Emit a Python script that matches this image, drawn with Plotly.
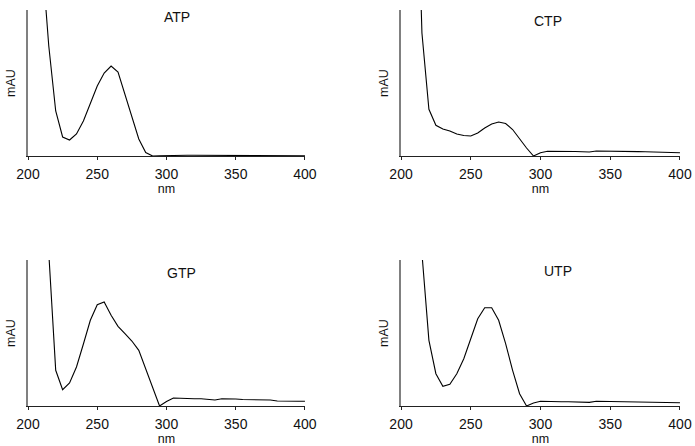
import plotly.graph_objects as go

wavelength = [210, 215, 220, 225, 230, 235, 240, 245, 250, 255, 260, 265, 270, 275,
              280, 285, 290, 295, 300, 305, 310, 315, 320, 325, 330, 335, 340, 345,
              350, 355, 360, 365, 370, 375, 380, 385, 390, 395, 400]

atp = [200, 110, 45, 19, 16, 22, 35, 52, 70, 83, 90, 84, 62, 38, 17, 3.5, 0, 0.3, 0.5,
       1, 0.9, 0.8, 0.7, 0.7, 0.5, 0.4, 0.8, 0.9, 0.9, 0.8, 0.8, 0.7, 0.7, 0.6, 0.5,
       0.5, 0.4, 0.3, 0.3]
ctp = [360, 123, 46.7, 30.7, 27, 25, 22, 20.5, 20, 23, 28, 32, 34, 32.5, 26.5, 17, 8,
       0, 3.3, 4.7, 4.8, 4.7, 4.6, 4.5, 4.3, 4.0, 5.0, 5.0, 5.0, 4.8, 4.7, 4.5, 4.4,
       4.2, 3.9, 3.7, 3.5, 3.4, 3.3]
gtp = [300, 153, 35.7, 16.3, 23, 39, 62, 85.7, 101.3, 104, 90.7, 79.7, 72.3, 65, 55.7,
       37.3, 18.3, 0, 4.5, 8, 7.8, 7.3, 7.2, 7.3, 6.5, 6, 7.3, 7.3, 7, 6.5, 6.5, 6.5,
       6.5, 6, 5, 4.7, 4.7, 4.7, 4.7]
utp = [280, 152.7, 65.7, 32.3, 19.7, 21.7, 32.3, 47.3, 67.3, 87.3, 98.3, 98.3, 85.7,
       62.3, 35.7, 12.3, 0, 3, 4.7, 4.8, 4.5, 4.3, 4.3, 4.2, 3.8, 3.6, 4.7, 4.6, 4.5,
       4.3, 4.3, 4.2, 4.0, 3.8, 3.6, 3.5, 3.4, 3.3, 3.2]

names = ["ATP", "CTP", "GTP", "UTP"]
series = [atp, ctp, gtp, utp]
x_ticks = [200, 250, 300, 350, 400]

# panel layout (paper fractions)
x_dom = [[0.0403, 0.4388], [0.5770, 0.9784], [0.0403, 0.4388], [0.5770, 0.9784]]
y_dom = [[0.6502, 0.9776], [0.6502, 0.9776], [0.0897, 0.4170], [0.0897, 0.4170]]
title_pos = [(0.538, 0.952), (0.527, 0.928), (0.554, 0.911), (0.563, 0.927)]

FONT = "Liberation Sans, Arial, sans-serif"
fig = go.Figure()
annotations = []
for i, (name, vals) in enumerate(zip(names, series)):
    sfx = "" if i == 0 else str(i + 1)
    fig.add_trace(go.Scatter(x=wavelength, y=vals, mode="lines",
                             line=dict(color="black", width=1.1),
                             xaxis="x" + sfx, yaxis="y" + sfx,
                             hoverinfo="x+y", showlegend=False))
    fig.layout["xaxis" + sfx] = dict(
        domain=x_dom[i], anchor="y" + sfx, range=[200, 400],
        tickvals=x_ticks, ticks="outside", ticklen=3, tickcolor="#222",
        ticklabelstandoff=2,
        showline=True, linecolor="#222", linewidth=1, showgrid=False,
        zeroline=False, automargin=False,
        tickfont=dict(family=FONT, size=14, color="#111"),
        title=dict(text="nm", standoff=3, font=dict(family=FONT, size=12.5, color="#111")),
    )
    fig.layout["yaxis" + sfx] = dict(
        domain=y_dom[i], anchor="x" + sfx, range=[0, 146],
        showticklabels=False, ticks="", showline=True, linecolor="#808080",
        linewidth=1.5, showgrid=False, zeroline=False, automargin=False,
        title=dict(text="mAU", standoff=8, font=dict(family=FONT, size=12.5, color="#111")),
    )
    annotations.append(dict(text=name, xref="x" + sfx + " domain", yref="y" + sfx + " domain",
                            x=title_pos[i][0], y=title_pos[i][1], showarrow=False,
                            xanchor="center", yanchor="middle",
                            font=dict(family=FONT, size=14, color="#111")))

fig.update_layout(width=695, height=446, margin=dict(l=0, r=0, t=0, b=0),
                  paper_bgcolor="white", plot_bgcolor="white",
                  annotations=annotations, showlegend=False)
fig.write_html("out.html", config={"displayModeBar": False},
               post_script="document.body.style.margin='0';document.body.style.overflow='hidden';")
